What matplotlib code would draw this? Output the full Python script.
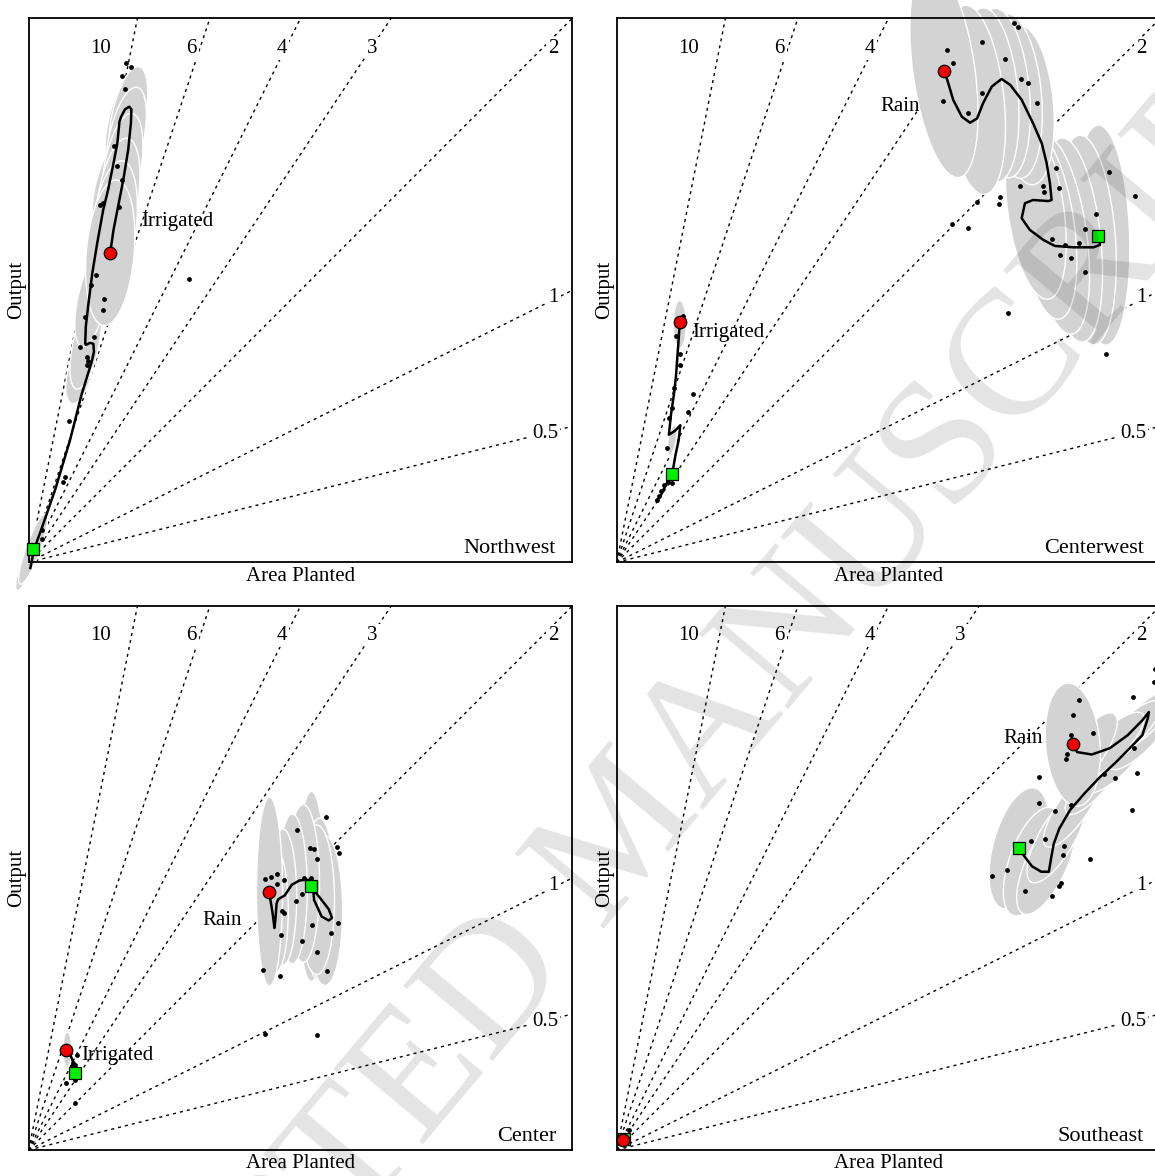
import numpy as np
import matplotlib.pyplot as plt
from matplotlib.patches import Ellipse
from matplotlib.transforms import Affine2D

plt.rcParams['font.family'] = ['Liberation Serif', 'DejaVu Serif']

# area on x (0-100), output on y (0-200): the slope-2 ray runs into the corner
slopes = [10, 6, 4, 3, 2, 1, 0.5]
slope_labels = ['10', '6', '4', '3', '2', '1', '0.5']
regions = ['Northwest', 'Centerwest', 'Center', 'Southeast']

# ellipses are (x, y, width, height, angle) along each trajectory, first one = start

# Northwest, irrigated
nw_irr_path_x = [15.0, 15.6, 16.5, 17.4, 18.3, 18.8, 18.9, 18.5, 17.7, 17.0, 16.7, 16.3, 15.6, 14.6,
                 13.7, 12.6, 11.7, 11.0, 10.5, 10.4, 10.5, 11.3, 11.9, 12.0, 11.6, 9.7, 7.6, 4.9,
                 2.5, 1.0, 0.3]
nw_irr_path_y = [113.8, 122.2, 131.4, 140.6, 151.6, 161.4, 166.5, 167.5, 166.5, 163.8, 162.0, 154.0,
                 146.7, 136.9, 129.5, 117.3, 106.3, 95.2, 86.6, 80.5, 79.9, 80.7, 80.3, 77.4, 73.8,
                 61.5, 44.9, 26.9, 13.1, 4.8, -2.1]
nw_irr_x = [17.9, 18.8, 17.2, 17.8, 15.7, 16.2, 17.1, 13.2, 13.6, 16.6, 12.3, 11.4, 13.9, 13.7, 10.3,
            12.0, 9.5, 10.7, 11.0, 10.8, 7.5, 6.6, 6.4, 2.5, 2.4, 29.4]
nw_irr_y = [183.6, 182.2, 178.7, 173.9, 153.2, 145.6, 140.5, 131.4, 132.1, 130.7, 105.8, 102.1, 96.9,
            92.6, 90.1, 82.8, 79.3, 75.5, 74.1, 72.5, 52.0, 31.3, 29.7, 11.7, 8.5, 104.2]
nw_irr_ell = [(15.0, 113.8, 8.8, 53.7, -5), (15.7, 123.0, 8.1, 49.6, -7), (16.4, 133.2, 7.4, 46.0, -9),
              (17.2, 144.2, 6.8, 42.3, -10), (17.9, 155.2, 6.4, 39.7, -12), (18.3, 163.3, 6.1, 38.6, -12),
              (17.5, 160.8, 5.9, 36.8, -12), (14.9, 136.9, 5.5, 34.9, -12), (11.6, 96.4, 5.2, 34.9, -12),
              (10.5, 79.9, 4.8, 33.1, -12), (9.4, 70.0, 4.4, 24.0, -14), (0.8, 4.9, 2.6, 27.6, -20),
              (-0.1, 0.8, 2.2, 23.9, -20)]
nw_irr_start = (15.0, 113.8)
nw_irr_end = (0.8, 4.9)

# Centerwest, rain
cw_rain_path_x = [60.3, 61.0, 61.9, 63.5, 65.0, 66.3, 67.4, 69.0, 70.8, 72.4, 74.5, 76.6, 78.2, 79.1,
                  79.7, 80.0, 79.4, 76.6, 75.1, 74.5, 76.0, 78.5, 80.6, 84.0, 87.7, 88.9, 88.8]
cw_rain_path_y = [180.6, 176.1, 170.0, 163.8, 161.6, 163.2, 168.8, 174.9, 177.7, 175.5, 170.0, 161.4,
                  154.0, 146.7, 139.3, 133.2, 132.8, 133.2, 132.0, 126.5, 122.2, 118.5, 116.3, 115.8,
                  115.8, 116.7, 120.0]
cw_rain_x = [73.1, 73.9, 67.2, 60.7, 61.8, 71.4, 74.4, 75.6, 67.2, 60.1, 77.3, 64.6, 80.9, 90.6, 74.1,
             78.4, 78.6, 81.4, 70.5, 70.4, 66.2, 61.6, 64.7, 88.1, 86.1, 80.0, 82.5, 85.1, 81.6, 83.6,
             86.1, 95.4, 71.9, 90.1]
cw_rain_y = [198.4, 196.9, 191.2, 188.5, 183.5, 185.0, 177.7, 176.1, 172.6, 169.7, 168.9, 165.1, 144.9,
             143.5, 138.5, 138.5, 136.0, 137.7, 134.4, 131.7, 132.4, 124.3, 123.0, 128.2, 122.4, 119.0,
             116.7, 117.3, 112.9, 111.9, 106.8, 134.7, 91.5, 76.5]
cw_rain_ell = [(60.2, 180.6, 11.4, 79.0, 8), (65.9, 170.0, 10.7, 69.9, 6), (68.7, 171.8, 10.3, 64.3, 5),
               (70.9, 172.5, 10.1, 62.5, 5), (73.1, 171.4, 10.1, 60.7, 5), (75.3, 168.1, 10.1, 58.8, 5),
               (77.1, 129.5, 10.3, 66.2, 8), (79.0, 124.0, 10.3, 69.9, 8), (81.2, 120.3, 10.5, 73.5, 8),
               (83.8, 118.5, 10.5, 75.4, 6), (86.5, 118.5, 10.5, 77.2, 4), (89.3, 120.3, 10.1, 80.9, 2)]
cw_rain_start = (60.3, 180.6)
cw_rain_end = (88.6, 120.1)

# Centerwest, irrigated
cw_irr_path_x = [11.6, 11.4, 11.2, 10.9, 10.5, 10.0, 9.6, 10.7, 11.7, 11.4, 10.8, 10.2, 9.0, 8.0, 7.4]
cw_irr_path_y = [88.3, 82.1, 76.6, 68.3, 61.4, 54.5, 46.9, 48.3, 50.4, 44.9, 39.3, 32.4, 28.3, 24.2, 22.8]
cw_irr_x = [12.2, 11.0, 11.7, 11.6, 10.5, 10.2, 9.7, 9.2, 14.0, 13.1, 9.4, 8.7, 8.2, 7.7, 7.4, 10.2]
cw_irr_y = [90.7, 83.1, 76.6, 72.7, 64.2, 56.6, 53.1, 42.1, 61.9, 55.3, 29.7, 28.3, 26.3, 24.2, 22.8, 29.3]
cw_irr_ell = [(11.6, 87.5, 2.4, 17.6, 0), (10.2, 44.9, 1.5, 11.0, -10)]
cw_irr_start = (11.6, 88.3)
cw_irr_end = (10.2, 32.4)

# Center, rain
ce_rain_path_x = [44.2, 44.7, 45.0, 45.2, 45.4, 45.6, 45.9, 47.1, 48.4, 49.8, 51.2, 52.2, 52.5, 53.9,
                  55.2, 55.8, 55.2, 53.9, 52.5, 52.0]
ce_rain_path_y = [95.0, 89.2, 85.1, 81.6, 85.1, 90.6, 92.2, 93.6, 97.5, 99.1, 99.4, 98.8, 91.9, 85.8,
                  84.4, 85.3, 88.5, 91.9, 95.4, 97.0]
ce_rain_x = [54.6, 49.3, 51.7, 52.5, 53.1, 56.8, 57.1, 43.5, 44.5, 45.7, 46.9, 50.7, 52.0, 45.6, 49.1,
             50.3, 46.6, 46.9, 46.4, 50.3, 52.2, 56.9, 55.6, 53.0, 54.9, 43.1, 46.2, 43.5, 53.1]
ce_rain_y = [122.5, 117.7, 111.2, 110.8, 107.1, 111.5, 109.2, 99.5, 100.2, 101.3, 99.1, 99.9, 99.9, 97.7,
             91.5, 94.0, 87.8, 87.0, 78.9, 76.8, 82.7, 83.6, 79.6, 72.7, 65.8, 66.2, 64.1, 42.8, 42.1]
ce_rain_ell = [(44.3, 95.0, 4.8, 69.5, 0), (45.5, 88.0, 4.5, 45.0, 0), (46.8, 93.0, 5.0, 50.0, 0),
               (48.5, 96.0, 5.5, 55.0, 0), (50.5, 98.0, 6.0, 58.0, 0), (53.0, 92.0, 6.5, 55.0, 0),
               (54.5, 88.0, 6.5, 55.0, 0), (53.5, 92.0, 6.0, 60.0, 0), (52.0, 96.9, 5.1, 69.9, 0)]
ce_rain_start = (44.2, 95.0)
ce_rain_end = (52.0, 97.0)

# Center, irrigated
ce_irr_path_x = [6.9, 7.5, 8.0, 8.2, 7.8, 8.3, 9.0, 9.1, 8.6, 8.3, 8.6]
ce_irr_path_y = [36.9, 35.5, 33.4, 31.7, 30.7, 30.0, 29.3, 27.3, 26.6, 27.3, 28.2]
ce_irr_x = [7.6, 8.8, 8.1, 8.5, 9.0, 8.6, 6.9, 8.5]
ce_irr_y = [35.5, 34.8, 32.1, 31.4, 27.3, 25.9, 24.5, 17.3]
ce_irr_ell = [(7.1, 36.9, 1.6, 13.0, 0)]
ce_irr_start = (6.9, 36.9)
ce_irr_end = (8.6, 28.2)

# Southeast, rain
se_rain_path_x = [83.9, 84.7, 87.4, 90.7, 94.0, 96.7, 97.9, 97.7, 96.7, 94.7, 92.0, 88.7, 86.1, 83.4,
                  81.4, 80.4, 79.9, 79.5, 78.1, 76.4, 74.8, 74.0]
se_rain_path_y = [149.3, 146.3, 145.4, 147.7, 152.5, 158.0, 161.0, 158.7, 152.5, 148.4, 142.9, 136.7,
                  131.2, 125.0, 118.1, 112.6, 107.1, 102.3, 102.3, 104.3, 108.5, 111.2]
se_rain_x = [85.1, 83.9, 83.5, 87.7, 82.9, 82.6, 77.6, 89.7, 91.7, 95.8, 95.1, 94.9, 99.0, 98.9, 77.7,
             80.7, 83.5, 94.8, 76.2, 78.8, 82.3, 82.1, 87.1, 69.1, 71.8, 75.2, 80.1, 81.3, 81.7]
se_rain_y = [165.3, 160.1, 152.5, 153.2, 145.6, 143.8, 137.0, 138.3, 136.7, 138.7, 147.7, 166.7, 176.9,
             172.1, 127.7, 124.6, 127.0, 125.0, 113.7, 114.2, 111.8, 108.5, 107.1, 100.8, 103.0, 95.3,
             93.3, 97.0, 98.3]
se_rain_ell = [(83.9, 149.0, 10.0, 45.4, 5), (86.5, 146.0, 6.0, 35.0, -35), (90.5, 148.0, 5.5, 35.0, -45),
               (94.0, 153.0, 5.0, 33.0, -45), (97.0, 158.0, 5.0, 30.0, -45), (96.0, 151.0, 5.0, 30.0, -45),
               (92.0, 143.0, 5.0, 32.0, -45), (88.0, 136.0, 5.0, 32.0, -40), (84.0, 126.0, 5.5, 35.0, -35),
               (81.0, 115.0, 6.5, 38.0, -30), (79.0, 105.0, 7.5, 40.0, -25), (76.5, 106.0, 8.5, 42.0, -20),
               (74.0, 110.9, 9.6, 45.8, -15)]
se_rain_start = (83.9, 149.3)
se_rain_end = (74.0, 111.2)

# Southeast, irrigated (tiny, at the origin)
se_irr_path_x = [1.2, 1.5, 1.8, 1.4]
se_irr_path_y = [3.6, 4.8, 5.8, 4.0]
se_irr_x = [1.6, 2.2, 0.9]
se_irr_y = [5.5, 7.3, 3.0]
se_irr_ell = []
se_irr_start = (1.2, 3.6)
se_irr_end = (1.4, 4.0)


def add_group(ax, px, py, sx, sy, ells, start, end):
    # ellipses in a space where x and y/2 have the same screen scale
    tr = Affine2D().scale(1, 2) + ax.transData
    for cx, cy, w, h, ang in reversed(ells):
        ax.add_patch(Ellipse((cx, cy / 2), w, h / 2, angle=ang, transform=tr,
                             facecolor='#d3d3d3', edgecolor='white', lw=1.0,
                             zorder=1.5, clip_on=False))
    ax.scatter(sx, sy, s=12, color='black', linewidths=0, zorder=3, clip_on=False)
    ax.plot(px, py, color='black', lw=1.8, zorder=4, clip_on=False)
    ax.plot(*end, marker='s', ms=8.5, color='#00ee00', mec='black', mew=0.9, zorder=5, clip_on=False)
    ax.plot(*start, marker='o', ms=9, color='#ee0000', mec='black', mew=0.9, zorder=6, clip_on=False)


groups = [
    [(nw_irr_path_x, nw_irr_path_y, nw_irr_x, nw_irr_y, nw_irr_ell, nw_irr_start, nw_irr_end)],
    [(cw_rain_path_x, cw_rain_path_y, cw_rain_x, cw_rain_y, cw_rain_ell, cw_rain_start, cw_rain_end),
     (cw_irr_path_x, cw_irr_path_y, cw_irr_x, cw_irr_y, cw_irr_ell, cw_irr_start, cw_irr_end)],
    [(ce_rain_path_x, ce_rain_path_y, ce_rain_x, ce_rain_y, ce_rain_ell, ce_rain_start, ce_rain_end),
     (ce_irr_path_x, ce_irr_path_y, ce_irr_x, ce_irr_y, ce_irr_ell, ce_irr_start, ce_irr_end)],
    [(se_rain_path_x, se_rain_path_y, se_rain_x, se_rain_y, se_rain_ell, se_rain_start, se_rain_end),
     (se_irr_path_x, se_irr_path_y, se_irr_x, se_irr_y, se_irr_ell, se_irr_start, se_irr_end)],
]
group_text = [
    [('Irrigated', 27.4, 125.3)],
    [('Rain', 52.1, 167.4), ('Irrigated', 20.5, 84.3)],
    [('Rain', 35.6, 84.2), ('Irrigated', 16.3, 34.9)],
    [('Rain', 74.8, 151.3)],
]

fig = plt.figure(figsize=(11.55, 11.76), dpi=100)
axes_pos = [[0.02485, 0.52186, 0.47065, 0.46259], [0.53394, 0.52186, 0.47065, 0.46259],
            [0.02485, 0.02211, 0.47065, 0.46259], [0.53394, 0.02211, 0.47065, 0.46259]]
label_pos = [(0.133, 0.945), (0.299, 0.945), (0.466, 0.945), (0.632, 0.945), (0.965, 0.945),
             (0.965, 0.487), (0.950, 0.237)]

for k in range(4):
    ax = fig.add_axes(axes_pos[k])
    ax.set_xlim(0, 100)
    ax.set_ylim(0, 200)
    ax.set_xticks([])
    ax.set_yticks([])
    for sp in ax.spines.values():
        sp.set_linewidth(1.3)

    # yield rays
    for s, lab, (lx, ly) in zip(slopes, slope_labels, label_pos):
        ax.plot([0, 100], [0, 100 * s], color='black', lw=1.0, ls=(0, (2.2, 2.9)), zorder=1)
        ax.text(lx, ly, lab, transform=ax.transAxes, fontsize=15, ha='center', va='center',
                zorder=1.2, bbox=dict(facecolor='white', edgecolor='none', pad=1.5))

    for g in groups[k]:
        add_group(ax, *g)
    for txt, tx, ty in group_text[k]:
        ax.text(tx, ty, txt, fontsize=15, ha='center', va='center', zorder=7)

    ax.text(0.97, 0.017, regions[k], transform=ax.transAxes, fontsize=16, ha='right', va='baseline')
    ax.set_xlabel('Area Planted', fontsize=15)
    ax.xaxis.set_label_coords(0.5, -0.008)
    ax.set_ylabel('Output', fontsize=15)
    ax.yaxis.set_label_coords(-0.004, 0.5)

# watermark
fig.text(0.543, 0.29, 'ACCEPTED MANUSCRIPT', fontsize=128, rotation=50, rotation_mode='anchor',
         ha='center', va='center', color='black', alpha=0.11, zorder=20)

fig.savefig('out.png', dpi=100)
